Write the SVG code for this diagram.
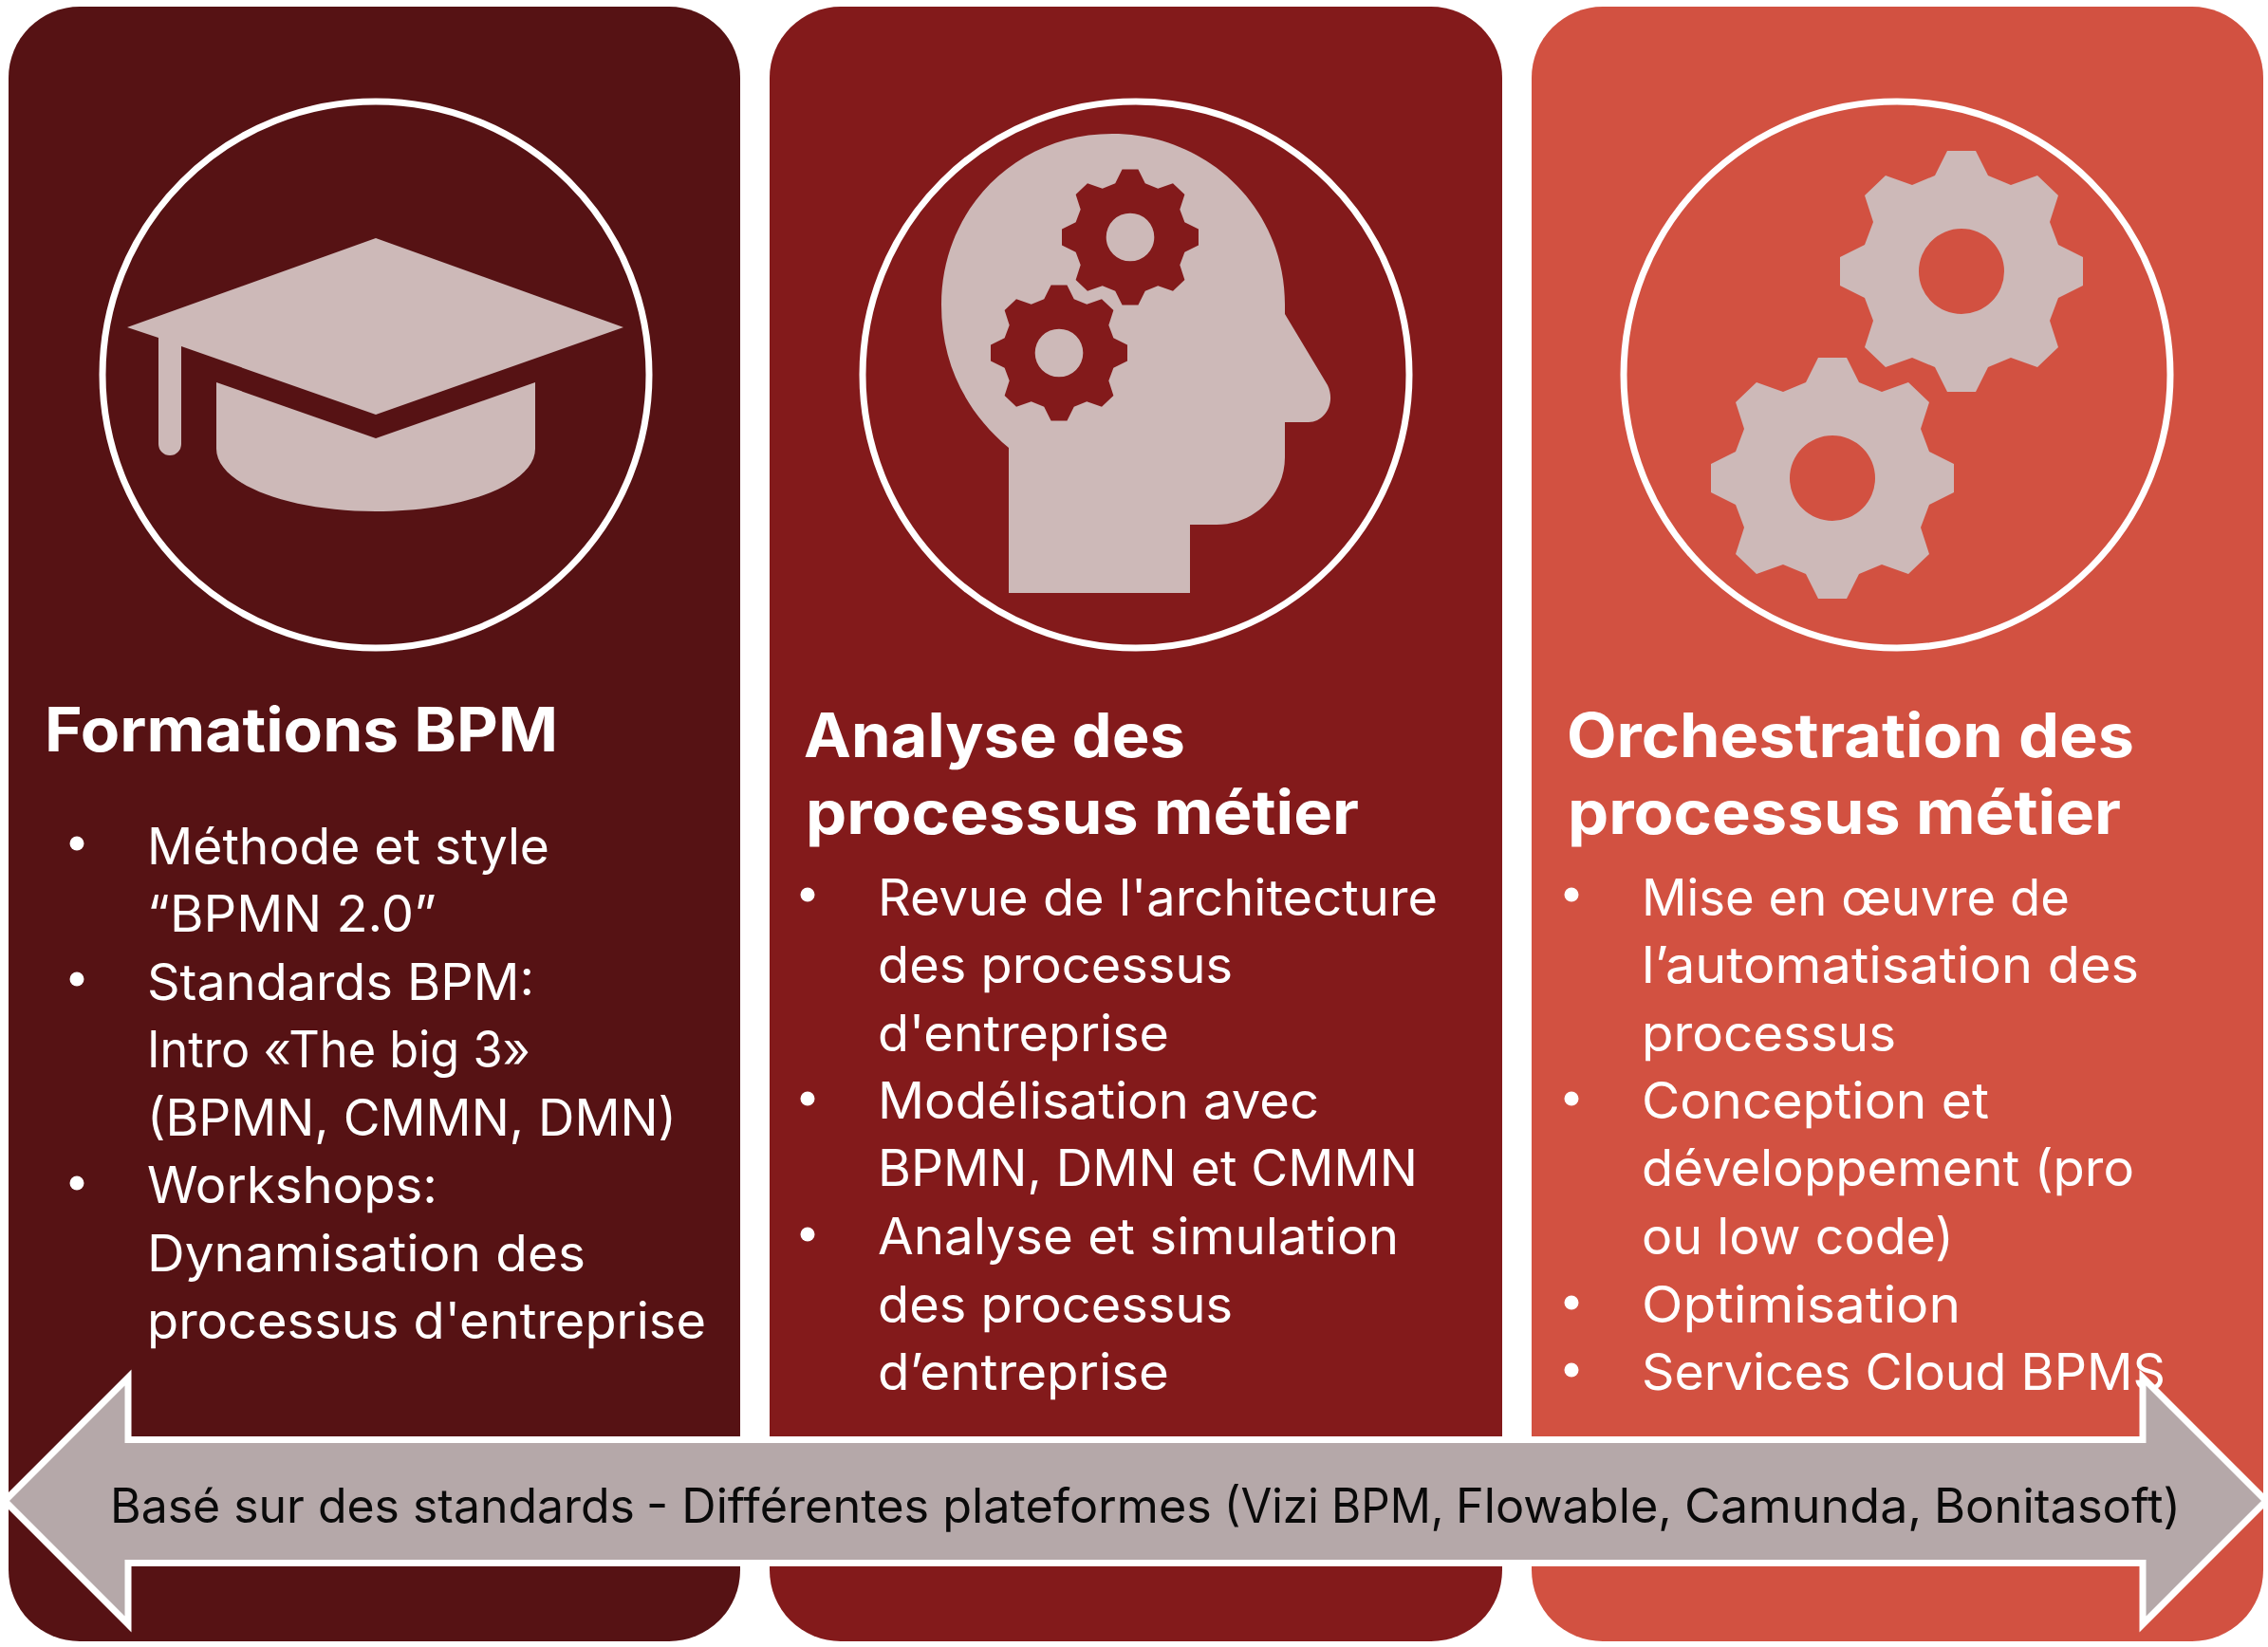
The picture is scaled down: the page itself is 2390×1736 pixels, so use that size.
<svg xmlns="http://www.w3.org/2000/svg" xmlns:xlink="http://www.w3.org/1999/xlink" width="2390" height="1736" viewBox="0 0 2390 1736">
<style>
text{font-family:"Inter","Noto Sans","Liberation Sans",sans-serif;fill:#fff}
.h{font-size:64px;font-weight:700}
.b{font-size:53px;font-weight:400}
.a{font-size:50px;fill:#0a0a0a}
.ring{fill:none;stroke:#fff;stroke-width:7}
.ico{fill:#cdb9b8}
.dot{fill:#fff}
</style>
<defs>
<path id="gear" fill-rule="evenodd" d="M-15-127H15L28-101 52-91 80-101 102-80 93-52 102-28 128-15V15L102 28 93 52 102 80 80 101 52 91 28 101 15 127H-15L-28 101-52 91-80 101-102 80-93 52-102 28-128 15V-15L-102-28-93-52-102-80-80-101-52-91-28-101ZM-45 0A45 45 0 1 0 45 0A45 45 0 1 0-45 0Z"/>
</defs>
<rect width="2390" height="1736" fill="#fff"/>
<g id="card-formations">
<rect x="9" y="7" width="771" height="1723" rx="75" fill="#561214"/>
<circle class="ring" cx="396" cy="395" r="288"/>
<g class="ico">
<path d="M396 251L657 345 396 437 191 365V468A12 12 0 0 1 167 468V356L134 345Z"/>
<path d="M228 403L396 462 564 403V473C564 510 489 539 396 539S228 510 228 473Z"/>
</g>
<text class="h" x="47" y="792" textLength="541" lengthAdjust="spacingAndGlyphs">Formations BPM</text>
<circle class="dot" cx="81" cy="889" r="7.5"/>
<circle class="dot" cx="81" cy="1032" r="7.5"/>
<circle class="dot" cx="81" cy="1247" r="7.5"/>
<text class="b" x="155" y="911" textLength="424" lengthAdjust="spacingAndGlyphs">Méthode et style</text>
<text class="b" x="155" y="982" textLength="305" lengthAdjust="spacingAndGlyphs">“BPMN 2.0”</text>
<text class="b" x="155" y="1054" textLength="408" lengthAdjust="spacingAndGlyphs">Standards BPM:</text>
<text class="b" x="155" y="1125" textLength="404" lengthAdjust="spacingAndGlyphs">Intro «The big 3»</text>
<text class="b" x="155" y="1197" textLength="558" lengthAdjust="spacingAndGlyphs">(BPMN, CMMN, DMN)</text>
<text class="b" x="155" y="1268" textLength="306" lengthAdjust="spacingAndGlyphs">Workshops:</text>
<text class="b" x="155" y="1340" textLength="462" lengthAdjust="spacingAndGlyphs">Dynamisation des</text>
<text class="b" x="155" y="1411" textLength="589" lengthAdjust="spacingAndGlyphs">processus d'entreprise</text>
</g>
<g id="card-analyse">
<rect x="811" y="7" width="772" height="1723" rx="75" fill="#831a1b"/>
<circle class="ring" cx="1197" cy="395" r="288"/>
<path class="ico" d="M1063 625H1254V553H1282C1322 553 1354 521 1354 482V445H1379C1396 445 1408 425 1399 406L1354 331V321C1354 220 1273 141 1172 141C1071 141 992 220 992 321C992 385 1019 435 1063 472Z"/>
<use xlink:href="#gear" href="#gear" transform="translate(1191 250) scale(.5625)" fill="#831a1b"/>
<use xlink:href="#gear" href="#gear" transform="translate(1116 372) scale(.5625)" fill="#831a1b"/>
<text class="h" x="847" y="798" textLength="402" lengthAdjust="spacingAndGlyphs">Analyse des</text>
<text class="h" x="849" y="879" textLength="583" lengthAdjust="spacingAndGlyphs">processus métier</text>
<circle class="dot" cx="851" cy="943" r="7.5"/>
<circle class="dot" cx="851" cy="1158" r="7.5"/>
<circle class="dot" cx="851" cy="1301" r="7.5"/>
<text class="b" x="925" y="965" textLength="590" lengthAdjust="spacingAndGlyphs">Revue de l'architecture</text>
<text class="b" x="925" y="1036" textLength="374" lengthAdjust="spacingAndGlyphs">des processus</text>
<text class="b" x="925" y="1108" textLength="307" lengthAdjust="spacingAndGlyphs">d'entreprise</text>
<text class="b" x="925" y="1179" textLength="465" lengthAdjust="spacingAndGlyphs">Modélisation avec</text>
<text class="b" x="925" y="1250" textLength="569" lengthAdjust="spacingAndGlyphs">BPMN, DMN et CMMN</text>
<text class="b" x="925" y="1322" textLength="549" lengthAdjust="spacingAndGlyphs">Analyse et simulation</text>
<text class="b" x="925" y="1394" textLength="374" lengthAdjust="spacingAndGlyphs">des processus</text>
<text class="b" x="925" y="1465" textLength="307" lengthAdjust="spacingAndGlyphs">d’entreprise</text>
</g>
<g id="card-orchestration">
<rect x="1614" y="7" width="771" height="1723" rx="75" fill="#d25141"/>
<circle class="ring" cx="1999" cy="395" r="288"/>
<use class="ico" xlink:href="#gear" href="#gear" transform="translate(2067 286)"/>
<use class="ico" xlink:href="#gear" href="#gear" transform="translate(1931 504)"/>
<text class="h" x="1651" y="798" textLength="598" lengthAdjust="spacingAndGlyphs">Orchestration des</text>
<text class="h" x="1652" y="879" textLength="583" lengthAdjust="spacingAndGlyphs">processus métier</text>
<circle class="dot" cx="1656" cy="943" r="7.5"/>
<circle class="dot" cx="1656" cy="1158" r="7.5"/>
<circle class="dot" cx="1656" cy="1373" r="7.5"/>
<circle class="dot" cx="1656" cy="1444" r="7.5"/>
<text class="b" x="1730" y="965" textLength="451" lengthAdjust="spacingAndGlyphs">Mise en œuvre de</text>
<text class="b" x="1730" y="1036" textLength="524" lengthAdjust="spacingAndGlyphs">l’automatisation des</text>
<text class="b" x="1730" y="1108" textLength="268" lengthAdjust="spacingAndGlyphs">processus</text>
<text class="b" x="1730" y="1179" textLength="366" lengthAdjust="spacingAndGlyphs">Conception et</text>
<text class="b" x="1730" y="1250" textLength="519" lengthAdjust="spacingAndGlyphs">développement (pro</text>
<text class="b" x="1730" y="1322" textLength="329" lengthAdjust="spacingAndGlyphs">ou low code)</text>
<text class="b" x="1730" y="1394" textLength="336" lengthAdjust="spacingAndGlyphs">Optimisation</text>
<text class="b" x="1730" y="1465" textLength="552" lengthAdjust="spacingAndGlyphs">Services Cloud BPMS</text>
</g>
<g id="arrow-standards">
<path d="M5 1582L135 1452V1517.5H2258V1452L2388 1582 2258 1712V1647.5H135V1712Z" fill="#b5a8a9" stroke="#fff" stroke-width="7" stroke-miterlimit="10"/>
<text class="a" y="1605"><tspan x="116" textLength="567" lengthAdjust="spacingAndGlyphs">Basé sur des standards </tspan><tspan x="681" textLength="610" lengthAdjust="spacingAndGlyphs">- Différentes plateformes </tspan><tspan x="1290" textLength="245" lengthAdjust="spacingAndGlyphs">(Vizi BPM, </tspan><tspan x="1534" textLength="242" lengthAdjust="spacingAndGlyphs">Flowable, </tspan><tspan x="1775" textLength="265" lengthAdjust="spacingAndGlyphs">Camunda, </tspan><tspan x="2038" textLength="260" lengthAdjust="spacingAndGlyphs">Bonitasoft)</tspan></text>
</g>
</svg>
